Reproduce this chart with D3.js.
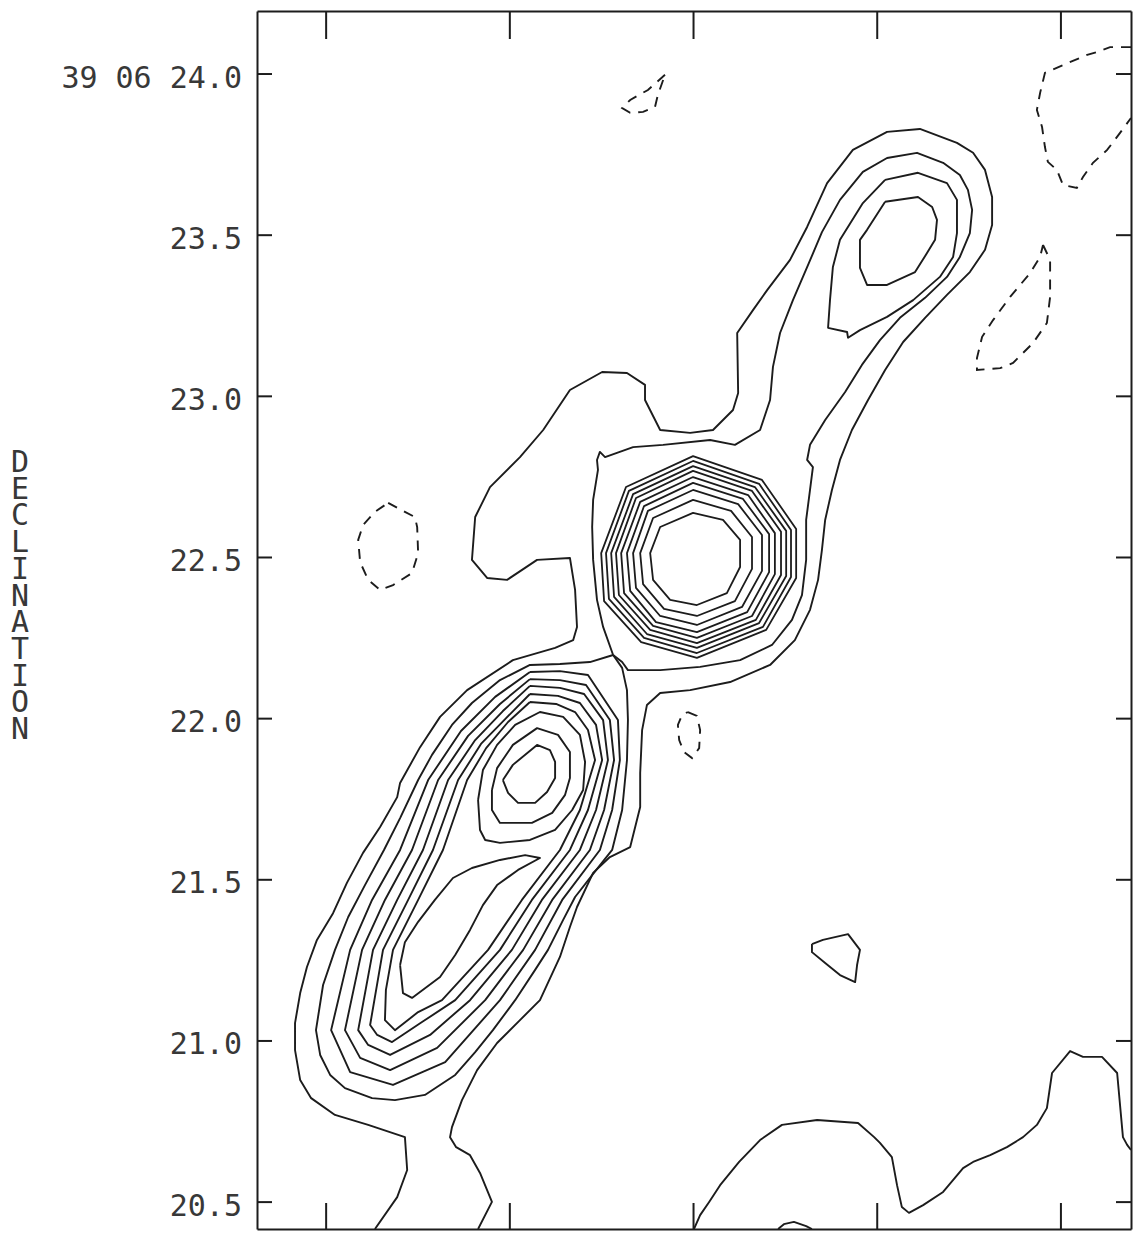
<!DOCTYPE html>
<html>
<head>
<meta charset="utf-8">
<script src="https://cdn.jsdelivr.net/npm/d3@7"></script>
<style>
  body { margin: 0; background: #fff; }
  svg { display: block; }
  .tick text { font-family: "DejaVu Sans Mono", monospace; font-size: 30px; fill: #383838; }
  .ytitle { font-family: "DejaVu Sans Mono", monospace; font-size: 30px; fill: #383838;
            writing-mode: vertical-rl; text-orientation: upright; }
</style>
</head>
<body>
<svg id="main"></svg>
<script>
// axis ticks (RA offset in arcsec, east to the left; Dec in arcsec of 39 06)
var yTicks = [24.0, 23.5, 23.0, 22.5, 22.0, 21.5, 21.0, 20.5];
var yTickLabels = ["39 06 24.0", "23.5", "23.0", "22.5", "22.0", "21.5", "21.0", "20.5"];
var xTicks = [1.14, 0.57, 0, -0.57, -1.14];
var yTitle = "DECLINATION";

// lowest positive level: envelope round the whole source
var envelope = [[0.987,20.415],[0.918,20.514],[0.887,20.598],[0.894,20.700],[1.008,20.738],[1.111,20.769],[1.185,20.821],[1.219,20.877],[1.235,20.970],[1.235,21.054],[1.219,21.147],[1.198,21.228],[1.167,21.312],[1.117,21.395],[1.074,21.489],[1.024,21.582],[0.971,21.662],[0.918,21.755],[0.909,21.799],[0.847,21.910],[0.785,22.004],[0.701,22.087],[0.559,22.180],[0.428,22.218],[0.372,22.242],[0.360,22.283],[0.366,22.398],[0.382,22.497],[0.484,22.491],[0.577,22.429],[0.639,22.435],[0.686,22.491],[0.676,22.624],[0.630,22.717],[0.537,22.810],[0.465,22.894],[0.382,23.018],[0.282,23.074],[0.205,23.071],[0.149,23.034],[0.149,22.987],[0.102,22.894],[0.009,22.885],[-0.062,22.894],[-0.124,22.956],[-0.140,23.009],[-0.137,23.195],[-0.186,23.266],[-0.230,23.328],[-0.301,23.422],[-0.354,23.524],[-0.416,23.660],[-0.496,23.763],[-0.602,23.819],[-0.704,23.828],[-0.819,23.785],[-0.869,23.754],[-0.906,23.701],[-0.928,23.617],[-0.928,23.530],[-0.906,23.453],[-0.859,23.384],[-0.788,23.313],[-0.720,23.242],[-0.652,23.167],[-0.596,23.080],[-0.543,22.987],[-0.493,22.894],[-0.456,22.801],[-0.431,22.708],[-0.410,22.615],[-0.400,22.522],[-0.388,22.429],[-0.363,22.336],[-0.316,22.242],[-0.239,22.165],[-0.115,22.112],[0.009,22.087],[0.102,22.078],[0.143,22.041],[0.158,21.963],[0.164,21.830],[0.164,21.724],[0.195,21.600],[0.258,21.569],[0.310,21.520],[0.360,21.414],[0.382,21.352],[0.413,21.259],[0.475,21.125],[0.537,21.063],[0.608,20.992],[0.670,20.908],[0.717,20.815],[0.748,20.731],[0.754,20.700],[0.735,20.669],[0.692,20.644],[0.661,20.589],[0.624,20.499],[0.667,20.415]];
var bottomRight = [[-0.003,20.415],[-0.022,20.458],[-0.050,20.499],[-0.084,20.551],[-0.143,20.623],[-0.208,20.691],[-0.276,20.738],[-0.385,20.753],[-0.512,20.744],[-0.562,20.700],[-0.580,20.682],[-0.617,20.638],[-0.633,20.551],[-0.648,20.483],[-0.670,20.465],[-0.714,20.489],[-0.776,20.530],[-0.838,20.604],[-0.869,20.623],[-0.922,20.644],[-0.974,20.669],[-1.024,20.700],[-1.067,20.738],[-1.098,20.790],[-1.114,20.899],[-1.170,20.967],[-1.210,20.949],[-1.269,20.949],[-1.316,20.899],[-1.334,20.700],[-1.347,20.676],[-1.359,20.660]];
var bottomBump = [[-0.264,20.415],[-0.282,20.430],[-0.313,20.437],[-0.351,20.424],[-0.369,20.415]];
var smallLoop = [[-0.369,21.299],[-0.403,21.312],[-0.481,21.330],[-0.518,21.281],[-0.509,21.234],[-0.503,21.181],[-0.456,21.203],[-0.410,21.240],[-0.369,21.274],[-0.369,21.299]];

// second level: south-west lobe, and core + north-east jet
var swLevel2 = [[0.248,22.196],[0.320,22.174],[0.413,22.168],[0.506,22.165],[0.599,22.118],[0.686,22.047],[0.748,21.979],[0.810,21.886],[0.853,21.808],[0.909,21.690],[0.959,21.591],[1.018,21.482],[1.070,21.383],[1.111,21.281],[1.148,21.172],[1.170,21.032],[1.157,20.955],[1.126,20.893],[1.080,20.852],[0.996,20.821],[0.925,20.815],[0.832,20.831],[0.738,20.893],[0.676,20.964],[0.621,21.032],[0.552,21.125],[0.490,21.219],[0.450,21.281],[0.403,21.374],[0.366,21.445],[0.313,21.513],[0.251,21.591],[0.220,21.715],[0.205,21.870],[0.202,21.994],[0.205,22.087],[0.220,22.156],[0.248,22.196]];
var coreLevel2 = [[0.248,22.196],[0.279,22.283],[0.298,22.367],[0.310,22.491],[0.313,22.593],[0.310,22.677],[0.295,22.770],[0.298,22.801],[0.289,22.826],[0.273,22.810],[0.186,22.841],[0.093,22.848],[-0.053,22.863],[-0.130,22.848],[-0.208,22.894],[-0.239,22.987],[-0.248,23.090],[-0.270,23.195],[-0.310,23.297],[-0.357,23.406],[-0.400,23.508],[-0.456,23.608],[-0.527,23.695],[-0.602,23.738],[-0.695,23.754],[-0.776,23.723],[-0.828,23.685],[-0.853,23.639],[-0.866,23.577],[-0.859,23.505],[-0.828,23.431],[-0.788,23.369],[-0.720,23.304],[-0.642,23.242],[-0.580,23.173],[-0.524,23.096],[-0.472,23.012],[-0.410,22.925],[-0.363,22.848],[-0.354,22.801],[-0.372,22.779],[-0.363,22.708],[-0.351,22.615],[-0.351,22.491],[-0.338,22.382],[-0.307,22.305],[-0.245,22.227],[-0.146,22.180],[-0.022,22.159],[0.102,22.149],[0.202,22.149],[0.220,22.174],[0.248,22.196]];

// south-west lobe, levels 3 to 7, then the two peaks
var sw3 = [[0.506,22.143],[0.413,22.146],[0.326,22.134],[0.233,21.994],[0.227,21.870],[0.251,21.715],[0.289,21.591],[0.406,21.436],[0.490,21.281],[0.599,21.125],[0.769,20.933],[0.931,20.862],[1.064,20.902],[1.123,21.032],[1.064,21.281],[0.996,21.436],[0.909,21.591],[0.822,21.808],[0.720,21.960],[0.614,22.066],[0.506,22.143]];
var sw4 = [[0.506,22.121],[0.413,22.118],[0.332,22.103],[0.258,21.994],[0.245,21.870],[0.276,21.715],[0.320,21.591],[0.437,21.436],[0.527,21.281],[0.645,21.125],[0.794,20.977],[0.940,20.908],[1.033,20.946],[1.080,21.032],[1.027,21.281],[0.956,21.436],[0.872,21.591],[0.791,21.808],[0.698,21.945],[0.599,22.044],[0.506,22.121]];
var sw5 = [[0.506,22.100],[0.413,22.094],[0.338,22.075],[0.279,21.994],[0.264,21.870],[0.301,21.715],[0.351,21.591],[0.469,21.436],[0.562,21.281],[0.692,21.125],[0.816,21.017],[0.940,20.955],[1.008,20.986],[1.039,21.032],[0.993,21.281],[0.918,21.436],[0.838,21.591],[0.760,21.808],[0.676,21.932],[0.590,22.022],[0.506,22.100]];
var sw6 = [[0.506,22.075],[0.419,22.069],[0.351,22.047],[0.301,21.979],[0.282,21.870],[0.326,21.715],[0.382,21.591],[0.500,21.436],[0.599,21.281],[0.738,21.125],[0.841,21.057],[0.934,20.995],[0.980,21.017],[1.002,21.048],[0.962,21.281],[0.884,21.436],[0.807,21.591],[0.729,21.808],[0.658,21.920],[0.580,22.000],[0.506,22.075]];
var sw7 = [[0.506,22.050],[0.425,22.044],[0.366,22.019],[0.326,21.963],[0.304,21.870],[0.351,21.715],[0.413,21.591],[0.531,21.436],[0.636,21.281],[0.779,21.125],[0.853,21.088],[0.925,21.032],[0.956,21.063],[0.953,21.157],[0.931,21.281],[0.853,21.436],[0.776,21.591],[0.701,21.808],[0.642,21.907],[0.574,21.988],[0.506,22.050]];
var swLowPeak = [[0.909,21.234],[0.900,21.147],[0.872,21.132],[0.785,21.197],[0.738,21.265],[0.692,21.343],[0.652,21.420],[0.608,21.482],[0.543,21.529],[0.475,21.566],[0.521,21.575],[0.599,21.560],[0.686,21.535],[0.745,21.504],[0.801,21.436],[0.853,21.368],[0.894,21.305],[0.909,21.234]];
var swPeak8 = [[0.667,21.746],[0.652,21.839],[0.608,21.917],[0.552,21.979],[0.475,22.019],[0.403,22.004],[0.351,21.948],[0.335,21.864],[0.341,21.777],[0.375,21.715],[0.428,21.653],[0.506,21.622],[0.599,21.613],[0.645,21.622],[0.661,21.653],[0.667,21.746]];
var swPeak9 = [[0.624,21.777],[0.608,21.845],[0.559,21.917],[0.484,21.969],[0.419,21.948],[0.382,21.895],[0.382,21.814],[0.397,21.762],[0.437,21.706],[0.500,21.675],[0.599,21.675],[0.624,21.715],[0.624,21.777]];
var swPeak10 = [[0.590,21.808],[0.559,21.855],[0.484,21.917],[0.444,21.901],[0.428,21.864],[0.428,21.814],[0.453,21.771],[0.490,21.737],[0.543,21.737],[0.574,21.768],[0.590,21.808]];

// core rings, outermost first
var core3 = [[0.285,22.512],[0.208,22.717],[0,22.813],[-0.214,22.739],[-0.320,22.587],[-0.320,22.435],[-0.227,22.274],[-0.012,22.187],[0.161,22.236],[0.276,22.363]];
var core4 = [[0.270,22.512],[0.199,22.705],[0,22.798],[-0.205,22.727],[-0.304,22.584],[-0.304,22.438],[-0.217,22.283],[-0.012,22.202],[0.152,22.249],[0.261,22.370]];
var core5 = [[0.254,22.512],[0.186,22.695],[0,22.782],[-0.192,22.717],[-0.289,22.581],[-0.289,22.441],[-0.205,22.295],[-0.012,22.218],[0.143,22.261],[0.245,22.376]];
var core6 = [[0.239,22.512],[0.177,22.683],[0,22.767],[-0.183,22.705],[-0.273,22.578],[-0.273,22.444],[-0.195,22.305],[-0.012,22.233],[0.133,22.274],[0.230,22.382]];
var core7 = [[0.223,22.512],[0.164,22.671],[0,22.748],[-0.171,22.692],[-0.254,22.574],[-0.254,22.447],[-0.183,22.317],[-0.012,22.249],[0.124,22.286],[0.214,22.388]];
var core8 = [[0.205,22.512],[0.152,22.658],[0,22.730],[-0.155,22.680],[-0.236,22.571],[-0.236,22.453],[-0.168,22.329],[-0.012,22.267],[0.115,22.298],[0.195,22.395]];
var core9 = [[0.186,22.512],[0.140,22.643],[0,22.708],[-0.140,22.664],[-0.214,22.568],[-0.214,22.457],[-0.152,22.345],[-0.012,22.289],[0.102,22.317],[0.177,22.404]];
var core10 = [[0.164,22.512],[0.124,22.621],[0,22.677],[-0.118,22.643],[-0.183,22.562],[-0.183,22.463],[-0.130,22.363],[-0.012,22.317],[0.090,22.339],[0.155,22.416]];
var core11 = [[0.133,22.512],[0.102,22.593],[0,22.637],[-0.093,22.615],[-0.146,22.553],[-0.146,22.469],[-0.105,22.388],[-0.012,22.351],[0.071,22.367],[0.124,22.429]];

// north-east knot
var ne3 = [[-0.596,23.670],[-0.698,23.692],[-0.788,23.660],[-0.819,23.608],[-0.819,23.505],[-0.807,23.431],[-0.766,23.369],[-0.683,23.297],[-0.602,23.245],[-0.518,23.204],[-0.481,23.180],[-0.478,23.198],[-0.419,23.211],[-0.425,23.297],[-0.434,23.400],[-0.456,23.484],[-0.527,23.598],[-0.596,23.670]];
var ne4 = [[-0.596,23.602],[-0.698,23.617],[-0.742,23.586],[-0.757,23.546],[-0.751,23.484],[-0.726,23.443],[-0.689,23.384],[-0.602,23.344],[-0.540,23.344],[-0.518,23.397],[-0.518,23.484],[-0.540,23.515],[-0.596,23.602]];

// negative levels (dashed)
var neg1 = [[0.087,23.996],[0.140,23.949],[0.195,23.918],[0.220,23.893],[0.195,23.878],[0.155,23.881],[0.118,23.896],[0.109,23.934],[0.087,23.996]];
var neg2 = [[-1.359,24.082],[-1.294,24.082],[-1.254,24.067],[-1.223,24.058],[-1.164,24.033],[-1.092,24.002],[-1.077,23.940],[-1.067,23.887],[-1.083,23.834],[-1.092,23.772],[-1.101,23.726],[-1.129,23.701],[-1.148,23.654],[-1.191,23.645],[-1.210,23.679],[-1.241,23.723],[-1.285,23.763],[-1.325,23.816],[-1.359,23.862]];
var neg3 = [[-1.086,23.468],[-1.108,23.422],[-1.108,23.307],[-1.098,23.226],[-1.055,23.164],[-0.993,23.102],[-0.953,23.086],[-0.881,23.080],[-0.881,23.117],[-0.897,23.183],[-0.931,23.235],[-0.984,23.307],[-1.046,23.381],[-1.077,23.431],[-1.086,23.468]];
var neg4 = [[0.946,22.668],[0.894,22.640],[0.863,22.624],[0.856,22.593],[0.853,22.512],[0.872,22.450],[0.931,22.413],[0.971,22.398],[1.008,22.429],[1.033,22.484],[1.039,22.553],[1.024,22.599],[0.987,22.640],[0.946,22.668]];
var neg5 = [[0.016,22.019],[-0.012,22.007],[-0.022,21.963],[-0.019,21.907],[0.003,21.876],[0.028,21.895],[0.043,21.932],[0.047,21.979],[0.034,22.010],[0.016,22.019]];

var openLines = [envelope, bottomRight, bottomBump, smallLoop, swLevel2, coreLevel2,
  sw3, sw4, sw5, sw6, sw7, swLowPeak, swPeak8, swPeak9, swPeak10, ne3, ne4];
var closedRings = [core3, core4, core5, core6, core7, core8, core9, core10, core11];
var negativeLines = [neg1, neg2, neg3, neg4, neg5];

var width = 1135, height = 1234;
var frame = {left: 257, right: 1131, top: 11, bottom: 1229};

var svg = d3.select("#main")
    .attr("width", width)
    .attr("height", height);

var x = d3.scaleLinear()
    .domain([1.353, -1.359])
    .range([frame.left, frame.right]);
var y = d3.scaleLinear()
    .domain([24.194, 20.415])
    .range([frame.top, frame.bottom]);

svg.append("clipPath")
    .attr("id", "clip")
  .append("rect")
    .attr("x", frame.left)
    .attr("y", frame.top)
    .attr("width", frame.right - frame.left)
    .attr("height", frame.bottom - frame.top);

var line = d3.line()
    .x(function (d) { return x(d[0]); })
    .y(function (d) { return y(d[1]); });
var ring = d3.line()
    .x(function (d) { return x(d[0]); })
    .y(function (d) { return y(d[1]); })
    .curve(d3.curveLinearClosed);

var plot = svg.append("g").attr("clip-path", "url(#clip)");

plot.selectAll("path.pos")
    .data(openLines)
    .enter()
    .append("path")
      .attr("class", "pos")
      .attr("d", line)
      .attr("fill", "none")
      .attr("stroke", "#1c1c1c")
      .attr("stroke-width", 1.9)
      .attr("stroke-linejoin", "round");

plot.selectAll("path.ring")
    .data(closedRings)
    .enter()
    .append("path")
      .attr("class", "ring")
      .attr("d", ring)
      .attr("fill", "none")
      .attr("stroke", "#1c1c1c")
      .attr("stroke-width", 1.8)
      .attr("stroke-linejoin", "round");

plot.selectAll("path.neg")
    .data(negativeLines)
    .enter()
    .append("path")
      .attr("class", "neg")
      .attr("d", line)
      .attr("fill", "none")
      .attr("stroke", "#1c1c1c")
      .attr("stroke-width", 1.9)
      .attr("stroke-dasharray", "10,8");

// frame and ticks (all ticks point inwards)
function styleAxis(g) {
  g.selectAll(".domain").attr("stroke", "#1c1c1c").attr("stroke-width", 2);
  g.selectAll(".tick line").attr("stroke", "#1c1c1c").attr("stroke-width", 2);
}

svg.append("g")
    .attr("transform", "translate(" + frame.left + ",0)")
    .call(d3.axisLeft(y)
      .tickValues(yTicks)
      .tickSizeInner(-15)
      .tickSizeOuter(0)
      .tickPadding(15)
      .tickFormat(function (d, i) { return yTickLabels[i]; }))
    .call(styleAxis)
    .selectAll(".tick text")
      .attr("dy", "0.45em");

svg.append("g")
    .attr("transform", "translate(" + frame.right + ",0)")
    .call(d3.axisRight(y).tickValues(yTicks).tickSizeInner(-15).tickSizeOuter(0).tickFormat(""))
    .call(styleAxis);

svg.append("g")
    .attr("transform", "translate(0," + frame.top + ")")
    .call(d3.axisTop(x).tickValues(xTicks).tickSizeInner(-28).tickSizeOuter(0).tickFormat(""))
    .call(styleAxis);

svg.append("g")
    .attr("transform", "translate(0," + frame.bottom + ")")
    .call(d3.axisBottom(x).tickValues(xTicks).tickSizeInner(-26).tickSizeOuter(0).tickFormat(""))
    .call(styleAxis);

// vertical axis title, letters stacked upright in one text
svg.append("text")
    .attr("class", "ytitle")
    .attr("x", 20)
    .attr("y", 444)
    .attr("letter-spacing", "-8.3px")
    .text(yTitle);
</script>
</body>
</html>
